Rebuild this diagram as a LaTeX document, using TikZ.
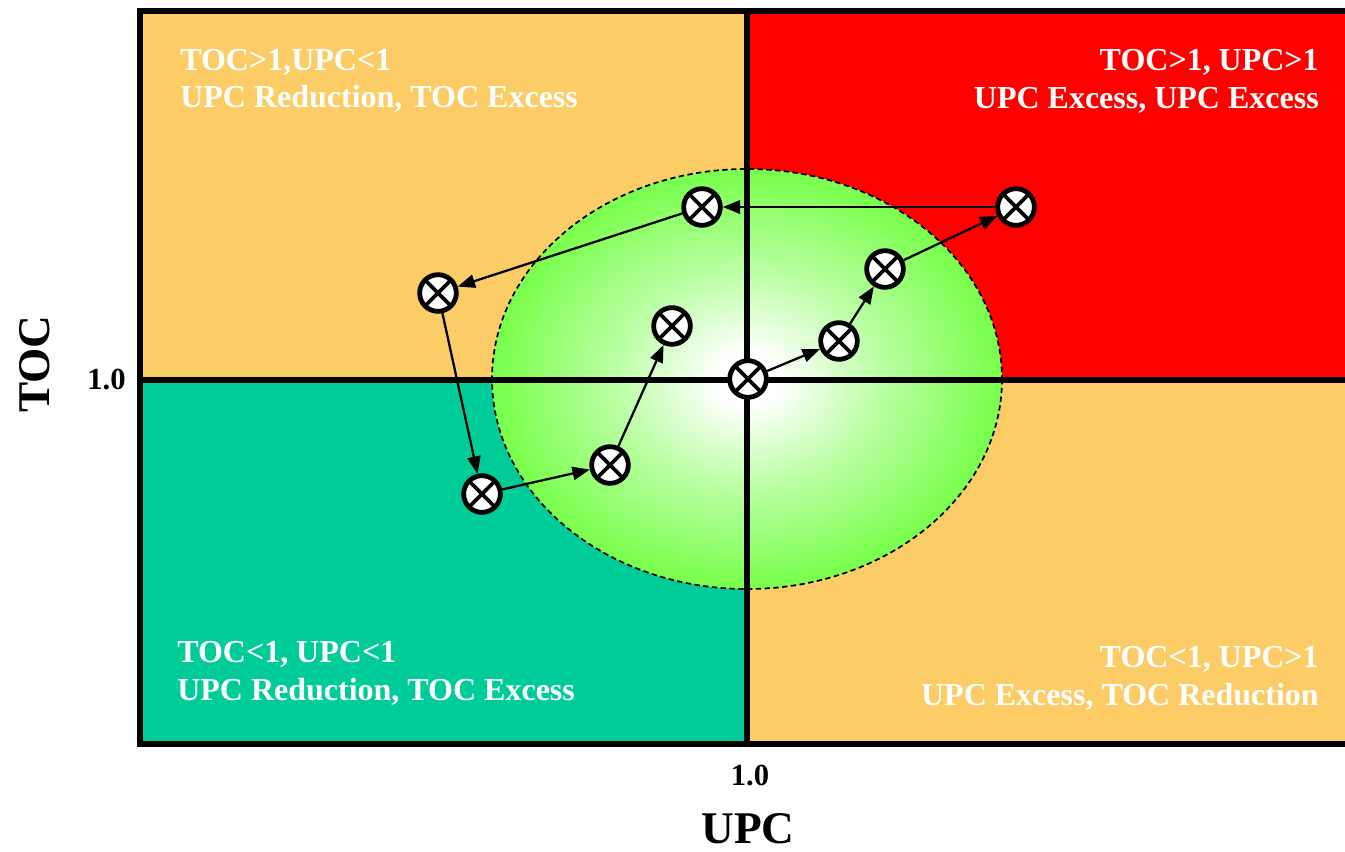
\documentclass[tikz,border=0pt]{standalone}
\usepackage{fontspec}
\setmainfont{Liberation Serif}
\usetikzlibrary{arrows.meta}
\definecolor{warm}{RGB}{252,204,102}
\definecolor{hot}{RGB}{255,0,0}
\definecolor{cool}{RGB}{0,204,153}
\definecolor{lime}{RGB}{102,255,51}
\pgfdeclareradialshading{glow}{\pgfpoint{0bp}{0bp}}{%
  color(0bp)=(white); color(3bp)=(white); color(13bp)=(lime!45!white);
  color(24bp)=(lime!85!white); color(31bp)=(lime); color(50bp)=(lime)}
\tikzset{
  heavy/.style={line width=4.5pt},
  qtext/.style={text=white, font=\bfseries\fontsize{24pt}{28pt}\selectfont, inner sep=0pt},
  ticklabel/.style={font=\bfseries\fontsize{23pt}{26pt}\selectfont, inner sep=0pt},
  axislabel/.style={font=\bfseries\fontsize{34pt}{38pt}\selectfont, inner sep=0pt},
  marker/.style={circle, draw=black, fill=white, line width=3.6pt,
    minimum size=27.5pt, inner sep=0pt,
    path picture={\draw[line width=2.8pt]
      (path picture bounding box.south west) -- (path picture bounding box.north east)
      (path picture bounding box.north west) -- (path picture bounding box.south east);}},
  move/.style={line width=1.7pt, -{Triangle[length=13pt,width=10pt]}},
}
\begin{document}
\begin{tikzpicture}[x=0.75pt,y=-0.75pt]
\useasboundingbox (0,0) rectangle (1345,851);
% quadrants
\fill[warm] (140,11) rectangle (747,380);
\fill[hot]  (747,11) rectangle (1350,380);
\fill[cool] (140,380) rectangle (747,744);
\fill[warm] (747,380) rectangle (1350,744);
% target zone
\shade[shading=glow] (747,379) ellipse [x radius=255, y radius=210];
\draw[line width=1.3pt, dash pattern=on 4pt off 2.6pt] (747,379) ellipse [x radius=255, y radius=210];
% axes and frame
\draw[heavy] (747,11) -- (747,744);
\draw[heavy] (140,380) -- (1350,380);
\draw[heavy] (1350,11) -- (140,11) -- (140,744) -- (1350,744);
% quadrant captions
\node[qtext, anchor=base west] (tl1) at (180,70) {TOC>1,UPC<1};
\node[qtext, anchor=base west] (tl2) at (180,107) {UPC Reduction, TOC Excess};
\node[qtext, anchor=base east] (tr1) at (1319,70) {TOC>1, UPC>1};
\node[qtext, anchor=base east] (tr2) at (1319,108) {UPC Excess, UPC Excess};
\node[qtext, anchor=base west] (bl1) at (177,662) {TOC<1, UPC<1};
\node[qtext, anchor=base west] (bl2) at (177,700) {UPC Reduction, TOC Excess};
\node[qtext, anchor=base east] (br1) at (1319,667) {TOC<1, UPC>1};
\node[qtext, anchor=base east] (br2) at (1319,705) {UPC Excess, TOC Reduction};
% axis labels
\node[ticklabel, anchor=east] (ty) at (126,380) {1.0};
\node[ticklabel] (tx) at (750,776) {1.0};
\node[axislabel, rotate=90] (ylab) at (35,364) {TOC};
\node[axislabel, anchor=base] (xlab) at (748,843) {UPC};
% trajectory
\node[marker] (A) at (748,379) {};
\node[marker] (B) at (839,341) {};
\node[marker] (C) at (885,269) {};
\node[marker] (D) at (1016,207) {};
\node[marker] (E) at (702,207) {};
\node[marker] (F) at (438,293) {};
\node[marker] (G) at (482,494) {};
\node[marker] (H) at (610,465) {};
\node[marker] (I) at (672,326) {};
\draw[move] (A) -- (B);
\draw[move] (B) -- (C);
\draw[move] (C) -- (D);
\draw[move] (D) -- (E);
\draw[move] (E) -- (F);
\draw[move] (F) -- (G);
\draw[move] (G) -- (H);
\draw[move] (H) -- (I);
\end{tikzpicture}
\end{document}
